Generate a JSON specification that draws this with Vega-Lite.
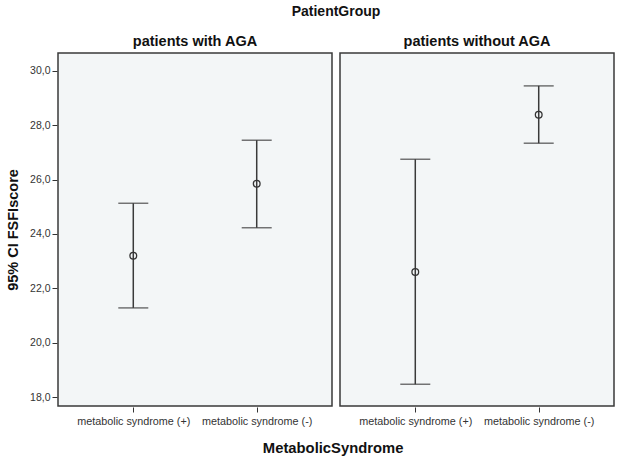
{
  "$schema": "https://vega.github.io/schema/vega-lite/v6.json",
  "data": {"values": [
    {"group": "patients with AGA", "ms": "metabolic syndrome (+)", "mean": 23.2, "lo": 21.28, "hi": 25.13},
    {"group": "patients with AGA", "ms": "metabolic syndrome (-)", "mean": 25.85, "lo": 24.23, "hi": 27.45},
    {"group": "patients without AGA", "ms": "metabolic syndrome (+)", "mean": 22.6, "lo": 18.47, "hi": 26.75},
    {"group": "patients without AGA", "ms": "metabolic syndrome (-)", "mean": 28.39, "lo": 27.34, "hi": 29.45}
  ]},
  "title": {"text": "MetabolicSyndrome", "orient": "bottom", "anchor": "middle", "fontSize": 14.8, "fontWeight": "bold", "font": "Liberation Sans", "color": "#111", "offset": 15, "dx": 23},
  "facet": {
    "column": {"field": "group", "type": "nominal", "title": "PatientGroup",
      "header": {"titleFontSize": 14, "titleFontWeight": "bold", "titleFont": "Liberation Sans", "titleColor": "#111", "titlePadding": 4,
        "labelFontSize": 14.5, "labelFontWeight": "bold", "labelFont": "Liberation Sans", "labelColor": "#111", "labelPadding": 3}}
  },
  "spacing": 6,
  "spec": {
    "width": 274,
    "height": 353,
    "encoding": {
      "x": {"field": "ms", "type": "nominal", "title": null,
        "sort": ["metabolic syndrome (+)", "metabolic syndrome (-)"],
        "scale": {"type": "point", "padding": 0.61},
        "axis": {"labelAngle": 0, "labelFontSize": 10.8, "labelFont": "Liberation Sans", "labelColor": "#333", "domain": false, "tickColor": "#333", "tickSize": 5, "labelPadding": 3}}
    },
    "layer": [
      {"mark": {"type": "rule", "color": "#3a3a3a", "strokeWidth": 1.5},
       "encoding": {
         "y": {"field": "lo", "type": "quantitative", "title": "95% CI FSFIscore",
           "scale": {"domain": [17.67, 30.66], "nice": false, "zero": false},
           "axis": {"values": [18, 20, 22, 24, 26, 28, 30], "labelExpr": "replace(format(datum.value, '.1f'), '.', ',')", "grid": false, "domain": false,
             "labelFontSize": 10.5, "labelFont": "Liberation Sans", "labelColor": "#333", "tickColor": "#333", "tickSize": 5,
             "titleFontSize": 14.5, "titleFontWeight": "bold", "titleFont": "Liberation Sans", "titleColor": "#111", "titlePadding": 9}},
         "y2": {"field": "hi"}
       }},
      {"mark": {"type": "tick", "color": "#3a3a3a", "thickness": 1.5, "size": 30},
       "encoding": {"y": {"field": "lo", "type": "quantitative"}}},
      {"mark": {"type": "tick", "color": "#3a3a3a", "thickness": 1.5, "size": 30},
       "encoding": {"y": {"field": "hi", "type": "quantitative"}}},
      {"mark": {"type": "point", "shape": "circle", "filled": false, "size": 45, "color": "#333", "strokeWidth": 1.3, "opacity": 1},
       "encoding": {"y": {"field": "mean", "type": "quantitative"}}}
    ]
  },
  "config": {
    "view": {"fill": "#f3f6f7", "stroke": "#3a3a3a", "strokeWidth": 1.5},
    "background": "white"
  }
}
